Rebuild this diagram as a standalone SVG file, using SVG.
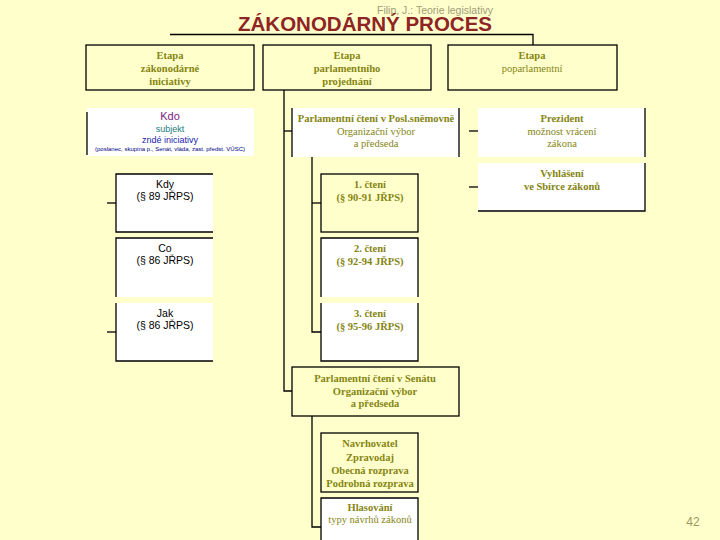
<svg xmlns="http://www.w3.org/2000/svg" width="720" height="540" viewBox="0 0 720 540">
<defs>
<linearGradient id="rule" x1="0" x2="1" y1="0" y2="0">
<stop offset="0" stop-color="#C9B65C" stop-opacity="0"/>
<stop offset="0.2" stop-color="#C9B65C" stop-opacity="1"/>
<stop offset="1" stop-color="#C9B65C" stop-opacity="1"/>
</linearGradient>
</defs>
<style>
.bx{fill:#FFFFFF;stroke:none}
.ln{stroke:#000;stroke-width:1.3;fill:none}
.ol{font-family:"Liberation Serif","DejaVu Serif",serif;fill:#858512;text-anchor:middle;font-size:10.5px}
.b{font-weight:bold}
.sn{font-family:"Liberation Sans","DejaVu Sans",sans-serif;fill:#000;text-anchor:middle;font-size:10.5px}
</style>
<rect width="720" height="540" fill="#FFFFCC"/>
<line x1="40" y1="421" x2="720" y2="421" stroke="url(#rule)" stroke-width="1.5"/>
<text x="435" y="14" font-family="Liberation Sans, sans-serif" font-size="10.5" fill="#A09C78" text-anchor="middle">Filip, J.: Teorie legislativy</text>
<text x="365" y="31" font-family="Liberation Sans, sans-serif" font-size="20" font-weight="bold" fill="#8E2424" text-anchor="middle" textLength="254" lengthAdjust="spacingAndGlyphs">ZÁKONODÁRNÝ PROCES</text>
<g id="connectors" class="ln">
<polyline points="170,34.5 533,34.5 533,45"/>
<polyline points="284,90 284,391 292,391"/>
<line x1="284" y1="131" x2="292" y2="131"/>
<polyline points="312,157 312,332 321,332"/>
<line x1="312" y1="203" x2="321" y2="203"/>
<polyline points="312,416 312,527 321,527"/>
<line x1="107" y1="203" x2="116" y2="203"/>
<line x1="107" y1="332" x2="116" y2="332"/>
<line x1="469" y1="131" x2="478" y2="131"/>
<line x1="469" y1="187" x2="478" y2="187"/>
</g>
<g id="etapa1">
<rect x="86" y="45" width="168" height="45" fill="#fff" class="ln"/>
<text class="ol b" x="170" y="59">Etapa</text>
<text class="ol b" x="170" y="72">zákonodárné</text>
<text class="ol b" x="170" y="85">iniciativy</text>
</g>
<g id="etapa2">
<rect x="263" y="45" width="168" height="45" fill="#fff" class="ln"/>
<text class="ol b" x="347" y="59">Etapa</text>
<text class="ol b" x="347" y="72">parlamentního</text>
<text class="ol b" x="347" y="85">projednání</text>
</g>
<g id="etapa3">
<rect x="448" y="45" width="169" height="45" fill="#fff" class="ln"/>
<text class="ol b" x="532" y="59">Etapa</text>
<text class="ol" x="532" y="72">poparlamentní</text>
</g>
<g id="kdo">
<rect class="bx" x="87" y="108" width="167" height="48"/>
<line class="ln" x1="87" y1="112" x2="87" y2="155"/>
<text x="170" y="120" font-family="Liberation Sans, sans-serif" font-size="11" fill="#7A1A7A" text-anchor="middle">Kdo</text>
<text x="170" y="132" font-family="Liberation Sans, sans-serif" font-size="9" fill="#1A7A7A" text-anchor="middle">subjekt</text>
<text x="170" y="143" font-family="Liberation Sans, sans-serif" font-size="9" fill="#1A1AB0" text-anchor="middle">zndé iniciativy</text>
<text x="170" y="151" font-family="Liberation Sans, sans-serif" font-size="5.3" fill="#000080" text-anchor="middle" textLength="150" lengthAdjust="spacingAndGlyphs">(poslanec, skupina p., Senát, vláda, zast. předst. VÚSC)</text>
</g>
<g id="kdy">
<rect class="bx" x="116" y="174" width="97" height="58"/>
<polyline class="ln" points="213,174 116,174 116,232 213,232"/>
<text class="sn" x="165" y="188">Kdy</text>
<text class="sn" x="165" y="200">(§ 89 JŘPS)</text>
</g>
<g id="co">
<rect class="bx" x="116" y="238" width="97" height="59"/>
<polyline class="ln" points="213,238 116,238 116,297"/>
<text class="sn" x="165" y="252">Co</text>
<text class="sn" x="165" y="264">(§ 86 JŘPS)</text>
</g>
<g id="jak">
<rect class="bx" x="116" y="303" width="97" height="58"/>
<polyline class="ln" points="116,303 116,361 213,361"/>
<text class="sn" x="165" y="317">Jak</text>
<text class="sn" x="165" y="329">(§ 86 JŘPS)</text>
</g>
<g id="poslanecka">
<rect class="bx" x="292" y="108" width="168" height="49"/>
<line class="ln" x1="292" y1="108" x2="292" y2="157"/>
<line class="ln" x1="459" y1="108" x2="459" y2="157"/>
<text class="ol b" x="376" y="122">Parlamentní čtení v Posl.sněmovně</text>
<text class="ol" x="376" y="135">Organizační výbor</text>
<text class="ol" x="376" y="147">a předseda</text>
</g>
<g id="cteni1">
<rect x="321" y="174" width="97" height="58" fill="#fff" class="ln"/>
<text class="ol b" x="370" y="188">1. čtení</text>
<text class="ol b" x="370" y="201">(§ 90-91 JŘPS)</text>
</g>
<g id="cteni2">
<rect class="bx" x="321" y="238" width="97" height="59"/>
<polyline class="ln" points="321,297 321,238 418,238 418,297"/>
<text class="ol b" x="370" y="252">2. čtení</text>
<text class="ol b" x="370" y="265">(§ 92-94 JŘPS)</text>
</g>
<g id="cteni3">
<rect class="bx" x="321" y="303" width="97" height="58"/>
<polyline class="ln" points="321,303 321,361 418,361 418,303"/>
<text class="ol b" x="370" y="317">3. čtení</text>
<text class="ol b" x="370" y="330">(§ 95-96 JŘPS)</text>
</g>
<g id="senat">
<rect x="292" y="367" width="167" height="49" fill="#fff" class="ln"/>
<text class="ol b" x="375" y="382">Parlamentní čtení v Senátu</text>
<text class="ol b" x="375" y="395">Organizační výbor</text>
<text class="ol b" x="375" y="407">a předseda</text>
</g>
<g id="rozprava">
<rect x="321" y="433" width="97" height="59" fill="#fff" class="ln"/>
<text class="ol b" x="370" y="447">Navrhovatel</text>
<text class="ol b" x="370" y="461">Zpravodaj</text>
<text class="ol b" x="370" y="474">Obecná rozprava</text>
<text class="ol b" x="370" y="487">Podrobná rozprava</text>
</g>
<g id="hlasovani">
<rect class="bx" x="321" y="498" width="97" height="45"/>
<polyline class="ln" points="321,541 321,498 418,498 418,541"/>
<text class="ol b" x="370" y="511">Hlasování</text>
<text class="ol" x="370" y="523" font-size="7">typy návrhů zákonů</text>
</g>
<g id="prezident">
<rect class="bx" x="478" y="108" width="167" height="49"/>
<line class="ln" x1="645" y1="108" x2="645" y2="157"/>
<text class="ol b" x="562" y="122">Prezident</text>
<text class="ol" x="562" y="135">možnost vrácení</text>
<text class="ol" x="562" y="147">zákona</text>
</g>
<g id="vyhlaseni">
<rect class="bx" x="478" y="163" width="167" height="49"/>
<polyline class="ln" points="645,163 645,211 478,211"/>
<text class="ol b" x="562" y="177">Vyhlášení</text>
<text class="ol b" x="562" y="190">ve Sbírce zákonů</text>
</g>
<text x="693" y="526" font-family="Liberation Sans, sans-serif" font-size="12" fill="#9C9860" text-anchor="middle">42</text>
</svg>
